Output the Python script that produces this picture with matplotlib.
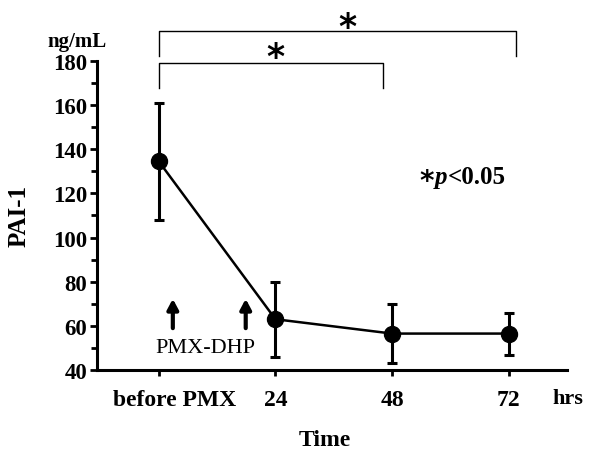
import matplotlib.pyplot as plt
import matplotlib.transforms as mtransforms

# PAI-1 values (ng/mL)
labels = ["before PMX", "24", "48", "72"]
mean_pai = [134.5, 63.0, 56.5, 56.5]
sd_pai = [26.5, 17.0, 13.5, 9.5]

plt.rcParams['font.family'] = ['Liberation Serif', 'DejaVu Serif']

fig = plt.figure(figsize=(6, 4.6), dpi=100)
ax = fig.add_axes([0.1617, 0.1935, 0.7833, 0.6717])

x = list(range(len(labels)))
ax.errorbar(x, mean_pai, yerr=sd_pai, fmt='-o', color='black', lw=1.8,
            elinewidth=2.2, capsize=3.5, capthick=2.2, markersize=11.5)

ax.set_xlim(-0.53, 3.5)
ax.set_ylim(40, 180)
ax.set_yticks(range(40, 181, 20))
ax.set_yticks(range(50, 180, 20), minor=True)
ax.set_xticks(x)
# first label drawn separately: it sits a little right of its tick
ax.set_xticklabels([""] + labels[1:], fontsize=17, fontweight='bold')
for t in ax.get_yticklabels():
    t.set_fontsize(16.5)
    t.set_fontweight('bold')
trans = mtransforms.blended_transform_factory(ax.transData, ax.transAxes)
trans = trans + mtransforms.ScaledTranslation(16 / 100, -29.5 / 100,
                                              fig.dpi_scale_trans)
ax.text(x[0], 0, labels[0], transform=trans, fontsize=17, fontweight='bold',
        ha='center', va='center', clip_on=False)

ax.spines['top'].set_visible(False)
ax.spines['right'].set_visible(False)
ax.spines['left'].set_linewidth(2.2)
ax.spines['bottom'].set_linewidth(2.2)
ax.tick_params(axis='y', which='major', length=5, width=2, pad=2)
ax.tick_params(axis='y', which='minor', length=4, width=2)
ax.tick_params(axis='x', length=4, width=2, pad=10)

ax.set_xlabel("Time", fontsize=17, fontweight='bold', labelpad=14)
ax.xaxis.set_label_coords(0.485, -0.19)
ax.set_ylabel("PAI-1", fontsize=18, fontweight='bold', labelpad=16)
ax.text(-0.70, 186.8, "ng/mL", fontsize=15, fontweight='bold', ha='center',
        va='baseline', clip_on=False)
ax.text(3.51, 27.3, "hrs", fontsize=16, fontweight='bold', ha='center',
        va='center', clip_on=False)

# significance brackets
ax.plot([0, 0, 3.06, 3.06], [182.3, 193.6, 193.6, 182.3], color='black',
        lw=1, clip_on=False)
ax.plot([0, 0, 1.92, 1.92], [167.8, 179.1, 179.1, 167.8], color='black',
        lw=1, clip_on=False)
ax.text(1.62, 191.0, "*", family='DejaVu Sans', fontweight='bold',
        fontsize=25, ha='center', va='baseline', clip_on=False)
ax.text(1.0, 177.3, "*", family='DejaVu Sans', fontweight='bold',
        fontsize=25, ha='center', va='baseline', clip_on=False)

ax.text(2.236, 122.0, "*", family='DejaVu Sans', fontweight='bold',
        fontsize=20, ha='left', va='baseline')
ax.text(2.37, 124.7, "p", fontsize=18, style='italic', fontweight='bold',
        ha='left', va='baseline')
ax.text(2.477, 124.7, "<0.05", fontsize=18, fontweight='bold', ha='left',
        va='baseline')

# PMX-DHP arrows
for xa in [0.12, 0.745]:
    ax.annotate("", xy=(xa, 73.5), xytext=(xa, 57.7),
                arrowprops=dict(arrowstyle='-|>,head_length=0.6,head_width=0.32',
                                color='black', lw=3))
ax.text(0.40, 50.3, "PMX-DHP", fontsize=16, ha='center', va='center')

fig.savefig("out.png", dpi=100)
